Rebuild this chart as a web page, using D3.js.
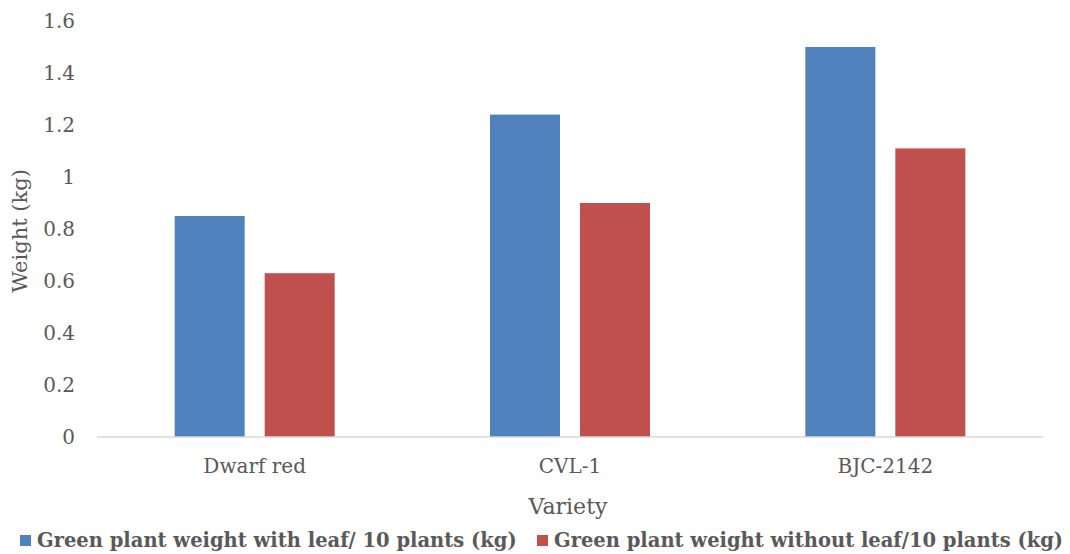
<!DOCTYPE html>
<html>
<head>
<meta charset="utf-8">
<script src="https://cdn.jsdelivr.net/npm/d3@7"></script>
<style>
  body { margin: 0; background: #fff; }
  svg text { font-family: "DejaVu Serif", serif; fill: #595959; }
</style>
</head>
<body>
<div id="chart"></div>
<script>
const varieties = ['Dwarf red', 'CVL-1', 'BJC-2142'];
const seriesNames = [
  'Green plant weight with leaf/ 10 plants (kg)',
  'Green plant weight without leaf/10 plants (kg)'
];
const withLeaf = [0.85, 1.24, 1.5];
const withoutLeaf = [0.63, 0.9, 1.11];
const yTicks = [0, 0.2, 0.4, 0.6, 0.8, 1, 1.2, 1.4, 1.6];
const colors = ['#4f81bd', '#c0504d'];

const width = 1070, height = 554;
const margin = {top: 21, right: 27, bottom: 117, left: 97};
const innerWidth = width - margin.left - margin.right;
const innerHeight = height - margin.top - margin.bottom;

const svg = d3.select('#chart').append('svg')
  .attr('width', width)
  .attr('height', height);

const g = svg.append('g')
  .attr('transform', `translate(${margin.left},${margin.top})`);

const xScale = d3.scaleBand()
  .domain(varieties)
  .range([0, innerWidth]);

// two bars per variety, 70px wide with a 20px gap
const xInner = d3.scaleBand()
  .domain([0, 1])
  .range([xScale.bandwidth() / 2 - 80, xScale.bandwidth() / 2 + 80])
  .paddingInner(20 / 90)
  .paddingOuter(0);

const yScale = d3.scaleLinear()
  .domain([0, 1.6])
  .range([innerHeight, 0]);

// y axis labels, no line
const yAxis = d3.axisLeft(yScale)
  .tickValues(yTicks)
  .tickFormat(d => String(+d.toFixed(1)))
  .tickSize(0)
  .tickPadding(22);

const yAxisG = g.append('g').call(yAxis);
yAxisG.select('.domain').remove();
yAxisG.selectAll('text')
  .style('font-size', '20px')
  .attr('fill', '#595959');

// bars
const values = [withLeaf, withoutLeaf];
values.forEach((series, si) => {
  g.selectAll('.bar-' + si)
    .data(series)
    .enter().append('rect')
    .attr('class', 'bar-' + si)
    .attr('x', (d, i) => xScale(varieties[i]) + xInner(si))
    .attr('width', xInner.bandwidth())
    .attr('y', d => yScale(d))
    .attr('height', d => innerHeight - yScale(d))
    .attr('fill', colors[si]);
});

// baseline
g.append('line')
  .attr('x1', 0).attr('x2', innerWidth)
  .attr('y1', innerHeight).attr('y2', innerHeight)
  .attr('stroke', '#d9d9d9')
  .attr('stroke-width', 1.3);

// x axis labels
const xAxis = d3.axisBottom(xScale).tickSize(0).tickPadding(22);
const xAxisG = g.append('g')
  .attr('transform', `translate(0,${innerHeight})`)
  .call(xAxis);
xAxisG.select('.domain').remove();
xAxisG.selectAll('text')
  .style('font-size', '20px')
  .attr('fill', '#595959');

// axis titles
svg.append('text')
  .attr('x', 568)
  .attr('y', 514)
  .attr('text-anchor', 'middle')
  .style('font-size', '22px')
  .text('Variety');

svg.append('text')
  .attr('transform', 'translate(27,231) rotate(-90)')
  .attr('text-anchor', 'middle')
  .style('font-size', '21px')
  .text('Weight (kg)');

// legend
const legendX = [20, 537];
seriesNames.forEach((name, i) => {
  const lg = svg.append('g').attr('transform', `translate(${legendX[i]},540)`);
  lg.append('rect')
    .attr('x', 0).attr('y', -5)
    .attr('width', 11).attr('height', 11)
    .attr('fill', colors[i]);
  lg.append('text')
    .attr('x', 17)
    .attr('y', 7)
    .style('font-size', '19.5px')
    .style('font-weight', 'bold')
    .text(name);
});
</script>
</body>
</html>
